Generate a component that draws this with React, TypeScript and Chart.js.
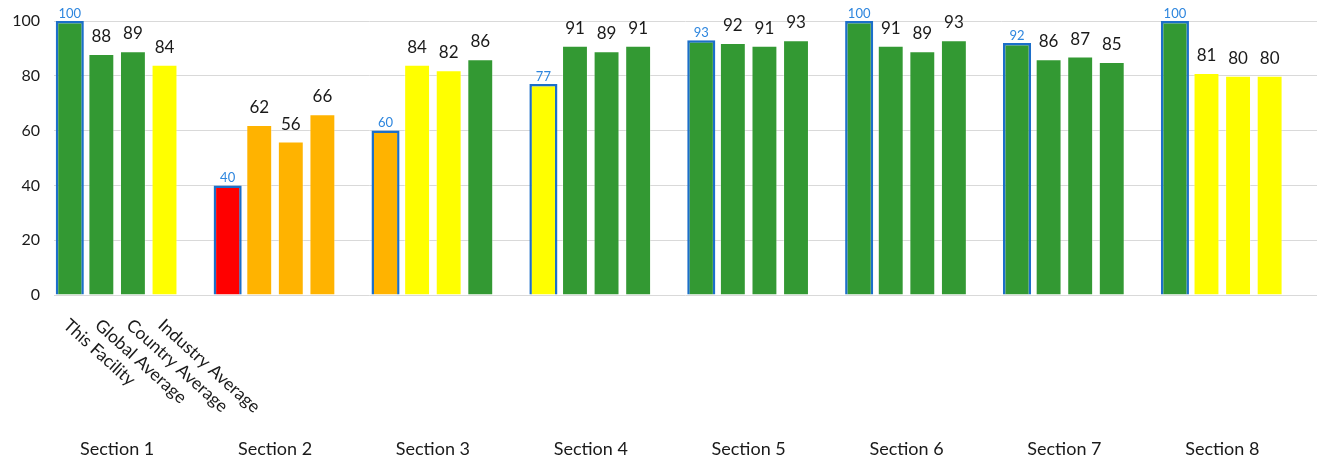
import React, { useEffect, useRef } from "react";
import { Chart, registerables } from "chart.js";

Chart.register(...registerables);

const sections = ["Section 1", "Section 2", "Section 3", "Section 4", "Section 5", "Section 6", "Section 7", "Section 8"];
const seriesNames = ["This Facility", "Global Average", "Country Average", "Industry Average"];
const thisFacility = [100, 40, 60, 77, 93, 100, 92, 100];
const globalAverage = [88, 62, 84, 91, 92, 91, 86, 81];
const countryAverage = [89, 56, 82, 89, 91, 89, 87, 80];
const industryAverage = [84, 66, 86, 91, 93, 93, 85, 80];
const yTicks = [0, 20, 40, 60, 80, 100];

const FONT = "Lato, 'Open Sans', sans-serif";
const BLUE = "#1c6fc9";
const BLUE_TEXT = "#2e86de";

function scoreColor(v: number): string {
  if (v >= 85) return "#339933";
  if (v >= 70) return "#ffff00";
  if (v >= 50) return "#ffb300";
  return "#ff0000";
}

const labelPlugin = {
  id: "customLabels",
  afterDatasetsDraw(chart: any) {
    const ctx = chart.ctx;
    ctx.save();
    // value labels
    for (let d = 0; d < 4; d++) {
      const meta = chart.getDatasetMeta(d);
      meta.data.forEach((bar: any, i: number) => {
        const v = chart.data.datasets[d].data[i];
        ctx.textAlign = "center";
        ctx.textBaseline = "bottom";
        if (d === 0) {
          ctx.fillStyle = BLUE_TEXT;
          ctx.font = `13px ${FONT}`;
          ctx.fillText(String(v), bar.x, bar.y - 1);
        } else {
          ctx.fillStyle = "#1a1a1a";
          ctx.font = `17px ${FONT}`;
          ctx.fillText(String(v), bar.x, bar.y - 9);
        }
      });
    }
    const bottom = chart.scales.y.getPixelForValue(0);
    // rotated series names under first section
    ctx.font = `17.5px ${FONT}`;
    ctx.fillStyle = "#1a1a1a";
    for (let d = 0; d < 4; d++) {
      const bar: any = chart.getDatasetMeta(d).data[0];
      ctx.save();
      ctx.translate(bar.x + 2, bottom + 21);
      ctx.rotate((42 * Math.PI) / 180);
      ctx.textAlign = "left";
      ctx.textBaseline = "top";
      ctx.fillText(seriesNames[d], 0, 0);
      ctx.restore();
    }
    // section labels
    ctx.textAlign = "center";
    ctx.textBaseline = "middle";
    ctx.font = `18px ${FONT}`;
    const m0 = chart.getDatasetMeta(0);
    const m3 = chart.getDatasetMeta(3);
    sections.forEach((s, i) => {
      const cx = (m0.data[i].x + m3.data[i].x) / 2;
      ctx.fillText(s, cx, 449);
    });
    ctx.restore();
  },
};

export default function App() {
  const ref = useRef<HTMLCanvasElement | null>(null);
  useEffect(() => {
    document.body.style.margin = "0";
    if (!ref.current) return;
    const mk = (name: string, data: number[], first: boolean) => ({
      label: name,
      data,
      backgroundColor: data.map(scoreColor),
      borderColor: first ? BLUE : "rgba(255,255,255,0.35)",
      borderWidth: first ? 2.5 : 1,
      barPercentage: first ? 0.89 : 0.82,
      categoryPercentage: 1,
    });
    const chart = new Chart(ref.current, {
      type: "bar",
      data: {
        labels: sections,
        datasets: [
          mk(seriesNames[0], thisFacility, true),
          mk(seriesNames[1], globalAverage, false),
          mk(seriesNames[2], countryAverage, false),
          mk(seriesNames[3], industryAverage, false),
          { label: "", data: sections.map(() => null as any), backgroundColor: "transparent", barPercentage: 0.82, categoryPercentage: 1 },
        ],
      },
      options: {
        responsive: false,
        animation: false,
        layout: { padding: { top: 21, bottom: 166, left: 0, right: 2 } },
        plugins: { legend: { display: false }, tooltip: { enabled: false } },
        scales: {
          x: {
            offset: true,
            grid: { display: false },
            border: { display: false },
            ticks: { display: false },
            afterFit: (axis: any) => {
              axis.height = 0;
              axis.paddingLeft = 0;
              axis.paddingRight = 0;
            },
          },
          y: {
            min: 0,
            max: 100,
            afterBuildTicks: (axis: any) => {
              axis.ticks = yTicks.map((v) => ({ value: v }));
            },
            afterFit: (axis: any) => {
              axis.width = 54;
              axis.paddingTop = 0;
              axis.paddingBottom = 0;
            },
            grid: { color: "#d9d9d9", lineWidth: 1, drawTicks: false },
            border: { display: false },
            ticks: {
              color: "#1a1a1a",
              font: { family: FONT, size: 16 },
              padding: 14,
            },
          },
        },
      },
      plugins: [labelPlugin],
    });
    return () => chart.destroy();
  }, []);
  return (
    <div style={{ width: 1319, height: 461 }}>
      <canvas ref={ref} width={1319} height={461} />
    </div>
  );
}
